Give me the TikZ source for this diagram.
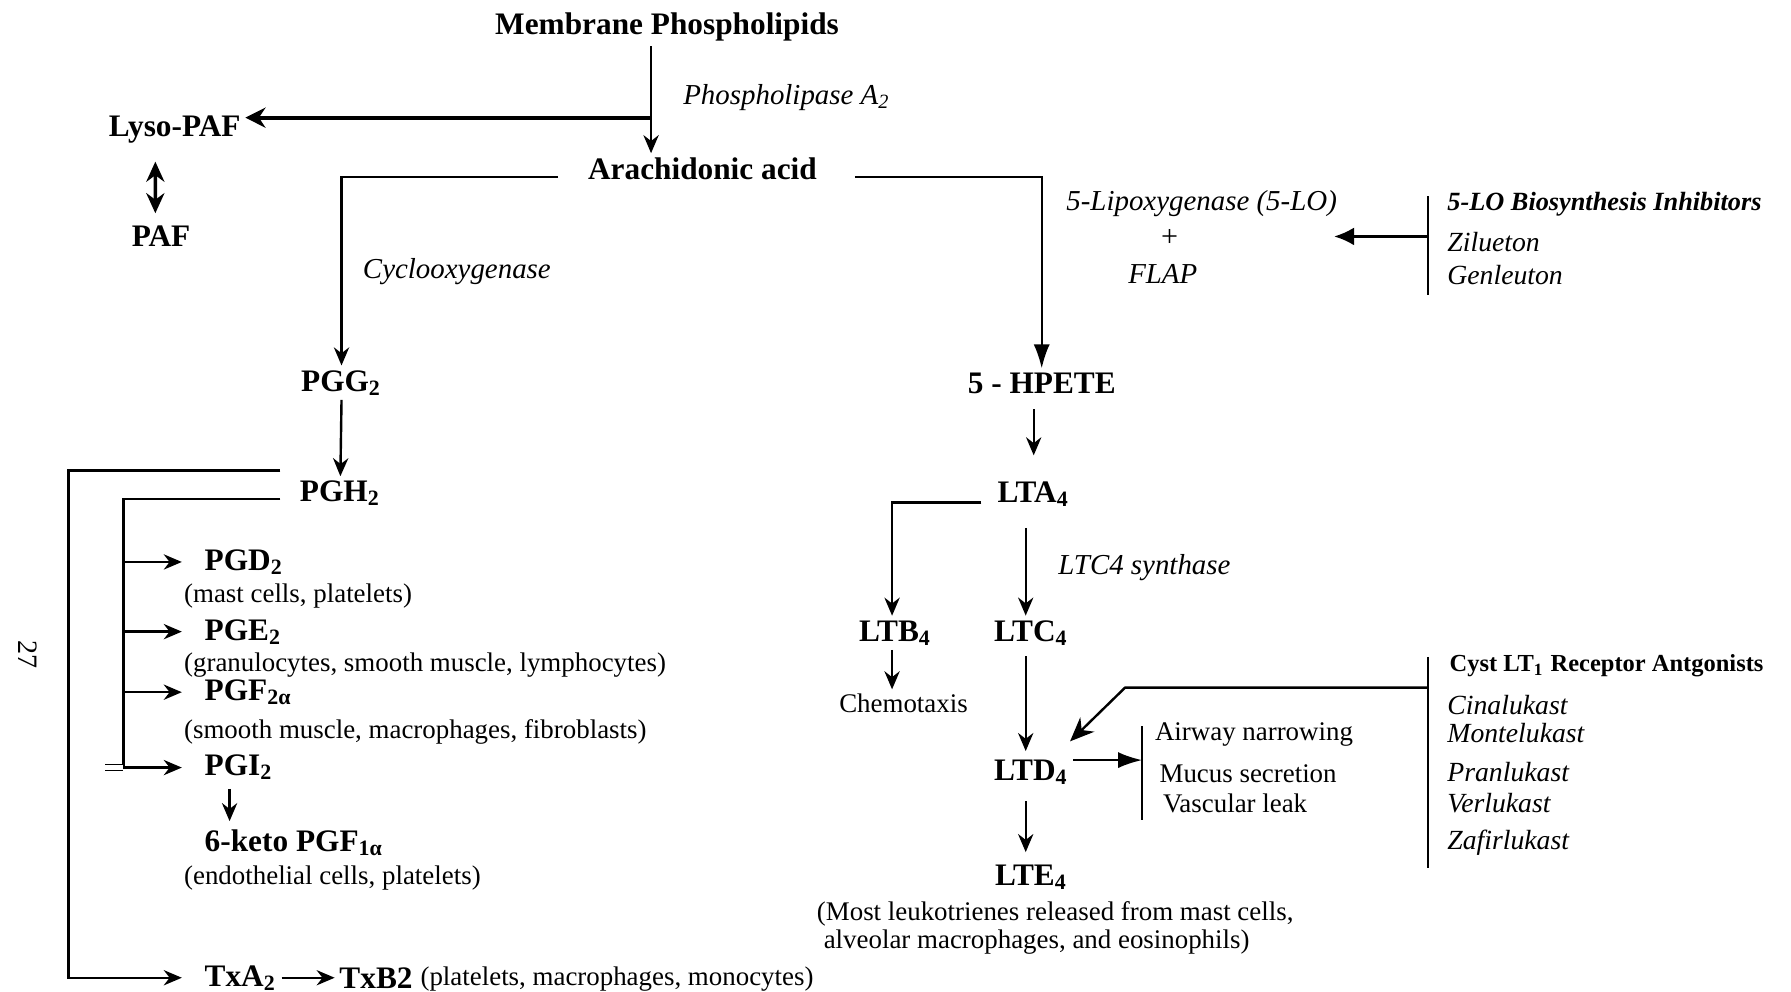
\documentclass[tikz,border=0pt]{standalone}
\usepackage{fontspec}
\setmainfont{Liberation Serif}
\usetikzlibrary{arrows.meta}
\tikzset{>={Stealth[length=4.5pt,width=3.8pt]}}
\tikzset{
  chem/.style={font=\fontsize{7.8}{9}\selectfont\bfseries,inner sep=1pt},
  enz/.style={font=\fontsize{7.2}{9}\selectfont\itshape,inner sep=1pt},
  drug/.style={font=\fontsize{6.9}{9}\selectfont\itshape,inner sep=1pt,anchor=west},
  site/.style={font=\fontsize{6.7}{8}\selectfont,inner sep=1pt,anchor=west},
  flow/.style={line width=.6pt},
  vbar/.style={line width=.45pt},
  bigtip/.style={-{Latex[length=6pt,width=4pt]}}
}

\begin{document}
\begin{tikzpicture}[x=0.1mm,y=-0.1mm]
\useasboundingbox (0,0) rectangle (1568,868);
% phospholipids and arachidonic acid
\node[chem] (memb) at (584,24) {Membrane Phospholipids};
\node[enz,anchor=west] (pla2) at (594,85) {Phospholipase A\textsubscript{2}};
\node[chem] (lyso) at (153,113) {Lyso-PAF};
\node[chem] (paf) at (141,207) {PAF};
\node[chem] (arach) at (615,148) {Arachidonic acid};
\coordinate (split) at (570,103);
\draw[flow,->] (memb.south -| split) -- (arach.north -| split);
\draw[line width=1pt,-{Stealth[length=5pt,width=5pt]}] (split) -- (split -| lyso.east);
\draw[line width=.9pt,{Stealth[length=5pt,width=4.5pt]}-{Stealth[length=5pt,width=4.5pt]}] ([shift={(-1.7mm,-3.5pt)}]lyso.south) -- ([shift={(-0.5mm,2pt)}]paf.north);

% cyclooxygenase branch
\node[enz] (cox) at (400,238) {Cyclooxygenase};
\node[chem] (pgg) at (299,335) {PGG\textsubscript{2}};
\node[chem] (pgh) at (298,432) {PGH\textsubscript{2}};
\draw[flow,->] ([shift={(-2.2mm,-2pt)}]arach.west) -| (pgg.north);
\draw[flow,->] (pgg.south) -- (pgh.north);

\node[chem,anchor=west] (pgd) at (175,492) {PGD\textsubscript{2}};
\node[site] (pgdc) at (157,522) {(mast cells, platelets)};
\node[chem,anchor=west] (pge) at (175,553) {PGE\textsubscript{2}};
\node[site] (pgec) at (157,582) {(granulocytes, smooth muscle, lymphocytes)};
\node[chem,anchor=west] (pgf) at (175,606) {PGF\textsubscript{2α}};
\node[site] (pgfc) at (157,641) {(smooth muscle, macrophages, fibroblasts)};
\node[chem,anchor=west] (pgi) at (175,672) {PGI\textsubscript{2}};
\node[chem,anchor=west] (keto) at (175,738) {6-keto PGF\textsubscript{1α}};
\node[site] (ketoc) at (157,769) {(endothelial cells, platelets)};
\node[chem,anchor=west] (txa) at (175,856) {TxA\textsubscript{2}};
\node[chem,anchor=west] (txb) at (293,856) {TxB2};
\node[site] (txbc) at (364,857) {(platelets, macrophages, monocytes)};
\node[font=\fontsize{7}{8}\selectfont,rotate=-90] (pgno) at (24,573) {27};

\coordinate (outer) at (60,412);
\coordinate (inner) at (108,437);
\draw[flow,->,shorten >=4.5pt] ([shift={(-1.3mm,2mm)}]pgh.west) -| (txa.west -| outer) -- (txa.west);
\draw[flow] ([shift={(-1.3mm,-0.5mm)}]pgh.west) -| (pgi.west -| inner);
\foreach \pg in {pgd,pge,pgf,pgi}
  \draw[flow,->,shorten >=4.5pt] (\pg.west -| inner) -- (\pg.west);
\draw[very thin,double distance=1.4pt] ([xshift=-1.6mm]pgi.west -| inner) -- (pgi.west -| inner);
\draw[flow,->] ([xshift=2.6mm,yshift=-1pt]pgi.south west) -- ([xshift=2.6mm,yshift=1pt]pgi.south west |- keto.north);
\draw[thin,->] (txa.east) -- (txb.west);

% lipoxygenase branch
\node[enz] (lox) at (1052,178) {5-Lipoxygenase (5-LO)};
\node[font=\fontsize{7.5}{9}\selectfont,inner sep=1pt] (plus) at (1024,208) {+};
\node[enz] (flap) at (1018,240) {FLAP};
\node[font=\fontsize{6.55}{9}\selectfont\bfseries\itshape,inner sep=1pt,anchor=west] (inhib) at (1263,179) {5-LO Biosynthesis Inhibitors};
\node[drug] (zil) at (1263,212) {Zilueton};
\node[drug] (gen) at (1263,241) {Genleuton};
\coordinate (inhtop) at (1250,172);
\coordinate (inhbot) at (1250,258);
\coordinate (inhtip) at (1168,207);
\draw[vbar] (inhtop) -- (inhbot);
\draw[flow,-{Latex[length=5pt,width=4.5pt]}] (inhtop |- inhtip) -- (inhtip);

\node[chem] (hpete) at (912,336) {5 - HPETE};
\node[chem] (lta) at (905,433) {LTA\textsubscript{4}};
\draw[flow,bigtip] ([shift={(2.9mm,-2pt)}]arach.east) -| (hpete.north);
\draw[flow,->,shorten <=2.5pt,shorten >=5.5pt] (hpete.south -| lta.north) -- (lta.north);

\node[enz] (ltcs) at (1002,497) {LTC4 synthase};
\node[chem] (ltb) at (784,554) {LTB\textsubscript{4}};
\node[chem] (ltc) at (903,554) {LTC\textsubscript{4}};
\node[site,anchor=center] (chemo) at (791,616) {Chemotaxis};
\node[chem] (ltd) at (903,676) {LTD\textsubscript{4}};
\node[chem] (lte) at (903,768) {LTE\textsubscript{4}};
\node[site] (most) at (711,800) {(Most leukotrienes released from mast cells,};
\node[site] (most2) at (717,825) {alveolar macrophages, and eosinophils)};
\draw[flow,->] ([shift={(-1mm,-2pt)}]lta.west) -| ([xshift=-0.3mm]ltb.north);
\draw[flow,->,shorten <=4pt] ([xshift=-0.5mm]ltc.north |- lta.south) -- ([xshift=-0.5mm]ltc.north);
\draw[flow,->] ([xshift=-0.3mm]ltb.south) -- ([xshift=-0.3mm]ltb.south |- chemo.north);
\draw[flow,->,shorten <=1.5pt] ([xshift=-0.5mm]ltc.south) -- ([xshift=-0.5mm,yshift=1pt]ltd.north);
\draw[flow,->,shorten <=3pt] ([xshift=-0.5mm]ltd.south) -- ([xshift=-0.5mm,yshift=2pt]lte.north);

% LTD4 effects
\node[site] (airway) at (1007,643) {Airway narrowing};
\node[site] (mucus) at (1011,677) {Mucus secretion};
\node[site] (vasc) at (1014,703) {Vascular leak};
\coordinate (efftop) at (1000,636);
\coordinate (effbot) at (1000,718);
\draw[vbar] (efftop) -- (effbot);
\draw[flow,bigtip] ([yshift=3pt]ltd.east) -- ([yshift=3pt]ltd.east -| efftop);

% receptor antagonists
\node[font=\fontsize{6.1}{9}\selectfont\bfseries,inner sep=1pt,anchor=west] (cyst) at (1265,583) {Cyst LT\textsubscript{1} Receptor Antgonists};
\node[drug] (cina) at (1263,617) {Cinalukast};
\node[drug] (monte) at (1263,642) {Montelukast};
\node[drug] (pran) at (1263,676) {Pranlukast};
\node[drug] (verl) at (1263,703) {Verlukast};
\node[drug] (zafi) at (1263,738) {Zafirlukast};
\coordinate (cystop) at (1250,575);
\coordinate (cysbot) at (1250,760);
\coordinate (cysj) at (1250,602);
\coordinate (cysk) at (985,602);
\draw[vbar] (cystop) -- (cysbot);
\draw[flow,-{Stealth[length=6pt,width=5pt]}] (cysj) -- (cysk) -- ([shift={(-0.3mm,1.2mm)}]ltd.north east);
\end{tikzpicture}
\end{document}
